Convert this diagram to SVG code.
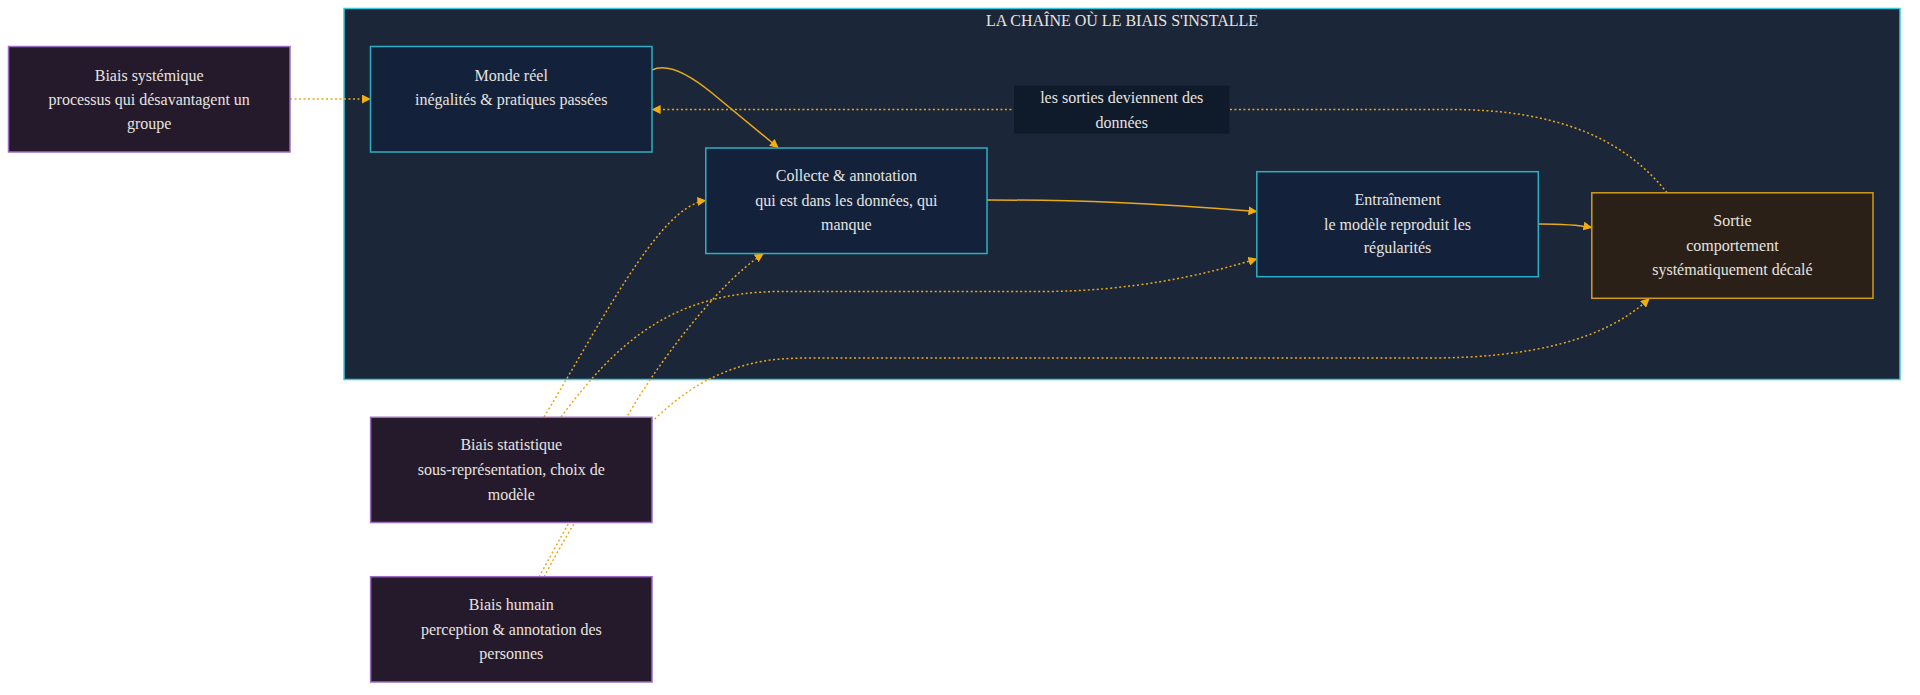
<svg xmlns="http://www.w3.org/2000/svg" width="1920" height="695" viewBox="0 0 1920 695">
<style>
.t{font-family:"Liberation Serif","Times New Roman",serif;font-size:16px;fill:#e6e4e0;text-anchor:middle}
.cl{fill:#1c2639;stroke:#3cc8d8;stroke-width:1.5}
.nb{fill:#14213a;stroke:#2eaec4;stroke-width:1.5}
.np{fill:#251a2b;stroke:#9c6cc0;stroke-width:1.5}
.no{fill:#2b2017;stroke:#d19b1c;stroke-width:1.5}
.e{fill:none;stroke:#e8a91a;stroke-width:1.5}
.d{fill:none;stroke:#e8a91a;stroke-width:1.5;stroke-dasharray:2 2.5}
.lb{fill:#0f1a2b}
</style>
<defs>
<marker id="ah" viewBox="0 0 10 10" refX="9" refY="5" markerWidth="9" markerHeight="9" markerUnits="userSpaceOnUse" orient="auto">
<path d="M0,0 L10,5 L0,10 z" fill="#f0ad14"/>
</marker>
</defs>
<rect width="1920" height="695" fill="#ffffff"/>
<g id="cluster">
<rect class="cl" x="344" y="8.5" width="1556" height="371"/>
<text class="t" x="1122" y="25.5">LA CHAÎNE OÙ LE BIAIS S'INSTALLE</text>
</g>
<g id="edges">
<path class="d" d="M290,99 L370,99" marker-end="url(#ah)"/>
<path class="e" d="M652,70 C668,62 690,75 712,93 L778,147.5" marker-end="url(#ah)"/>
<path class="d" d="M1667,192.7 C1625,140 1560,109.5 1450,109.5 L652.5,109.5" marker-end="url(#ah)"/>
<path class="e" d="M987,200 C1080,200 1150,203 1256.5,211.5" marker-end="url(#ah)"/>
<path class="e" d="M1538.5,224 C1560,224 1578,225 1591.5,227.5" marker-end="url(#ah)"/>
<path class="d" d="M544,417 C600,325 660,205 705.5,200.7" marker-end="url(#ah)"/>
<path class="d" d="M561,417 C615,345 670,292 780,291.5 L1040,291.5 C1130,291.5 1200,276 1256.5,259" marker-end="url(#ah)"/>
<path class="d" d="M539,577 L627,417 C650,375 715,285 763,254" marker-end="url(#ah)"/>
<path class="d" d="M544,577 C590,490 640,420 700,384 C740,362 770,358 810,358 L1430,358 C1530,358 1605,340 1649,298.8" marker-end="url(#ah)"/>
</g>
<g id="edge-label">
<rect class="lb" x="1014" y="85.7" width="215.5" height="48"/>
<text class="t" x="1121.7" y="102.5">les sorties deviennent des</text>
<text class="t" x="1121.7" y="127.5">données</text>
</g>
<g id="n-systemique">
<rect class="np" x="8.5" y="46.5" width="281.5" height="105.5"/>
<text class="t" x="149.2" y="80.5">Biais systémique</text>
<text class="t" x="149.2" y="105">processus qui désavantagent un</text>
<text class="t" x="149.2" y="129">groupe</text>
</g>
<g id="n-monde">
<rect class="nb" x="370.5" y="46.5" width="281.5" height="105.5"/>
<text class="t" x="511.2" y="80.5">Monde réel</text>
<text class="t" x="511.2" y="105">inégalités &amp; pratiques passées</text>
</g>
<g id="n-collecte">
<rect class="nb" x="705.8" y="148" width="281.2" height="105.5"/>
<text class="t" x="846.4" y="180.5">Collecte &amp; annotation</text>
<text class="t" x="846.4" y="205.5">qui est dans les données, qui</text>
<text class="t" x="846.4" y="229.5">manque</text>
</g>
<g id="n-entrainement">
<rect class="nb" x="1256.8" y="171.7" width="281.5" height="105"/>
<text class="t" x="1397.5" y="204.5">Entraînement</text>
<text class="t" x="1397.5" y="229.5">le modèle reproduit les</text>
<text class="t" x="1397.5" y="253">régularités</text>
</g>
<g id="n-sortie">
<rect class="no" x="1591.8" y="192.8" width="281.2" height="105.5"/>
<text class="t" x="1732.4" y="225.5">Sortie</text>
<text class="t" x="1732.4" y="250.5">comportement</text>
<text class="t" x="1732.4" y="274.5">systématiquement décalé</text>
</g>
<g id="n-statistique">
<rect class="np" x="370.6" y="417.3" width="281.4" height="105.2"/>
<text class="t" x="511.3" y="450">Biais statistique</text>
<text class="t" x="511.3" y="475">sous-représentation, choix de</text>
<text class="t" x="511.3" y="499.5">modèle</text>
</g>
<g id="n-humain">
<rect class="np" x="370.6" y="576.7" width="281.4" height="105.3"/>
<text class="t" x="511.3" y="609.5">Biais humain</text>
<text class="t" x="511.3" y="634.5">perception &amp; annotation des</text>
<text class="t" x="511.3" y="658.5">personnes</text>
</g>
</svg>
